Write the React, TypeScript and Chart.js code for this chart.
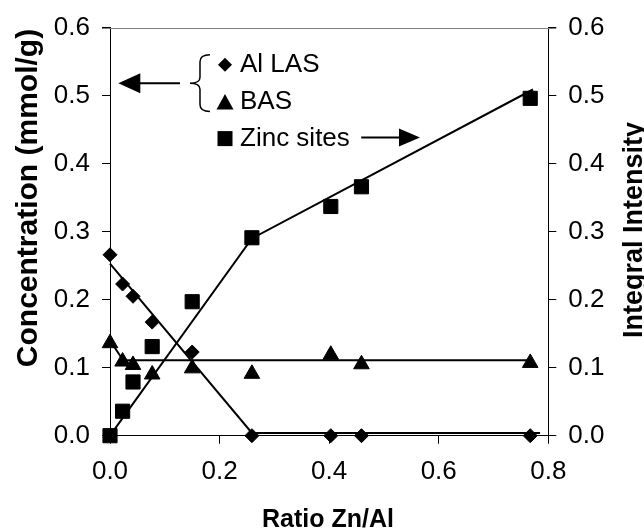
import React, { useEffect, useRef } from 'react';
import { Chart, registerables } from 'chart.js';

Chart.register(...registerables);

// ---- data ----
const ratioZnAl = [0, 0.023, 0.042, 0.077, 0.15, 0.259, 0.403, 0.459, 0.767];
const alLAS = [0.266, 0.223, 0.205, 0.167, 0.123, 0.0, 0.0, 0.0, 0.0];
const basSites = [0.136, 0.109, 0.104, 0.09, 0.099, 0.091, 0.119, 0.105, 0.107];
const zincSites = [0.0, 0.036, 0.079, 0.131, 0.197, 0.291, 0.337, 0.366, 0.496];

const lasFitX = [0, 0.259, 0.785];
const lasFitY = [0.253, 0.004, 0.004];
const basFitX = [0, 0.024, 0.767];
const basFitY = [0.14, 0.111, 0.111];
const zincFitX = [0, 0.259, 0.772];
const zincFitY = [0, 0.29, 0.509];

const xTickValues = [0, 0.2, 0.4, 0.6, 0.8];
const yTickValues = [0, 0.1, 0.2, 0.3, 0.4, 0.5, 0.6];

const xTitle = 'Ratio Zn/Al';
const yLeftTitle = 'Concentration (mmol/g)';
const yRightTitle = 'Integral Intensity';
const legendLabels = ['Al LAS', 'BAS', 'Zinc sites'];

// annotation anchors in data units
const legendMarkerX = 0.2099;
const legendTextX = 0.2373;
const legendY = [0.5454, 0.4905, 0.4368];
const leftArrow = { tipX: 0.0152, tailX: 0.1278, y: 0.518 };
const brace = { tipX: 0.146, endX: 0.1825, top: 0.56, bottom: 0.4766, mid: 0.518 };
const rightArrow = { tailX: 0.4585, tipX: 0.5658, y: 0.4386 };

const FONT = '"Liberation Sans", Arial, Helvetica, sans-serif';

const pts = (xs: number[], ys: number[]) => xs.map((x, i) => ({ x, y: ys[i] }));

const annotPlugin = {
  id: 'annot',
  afterDraw(chart: any) {
    const ctx = chart.ctx as CanvasRenderingContext2D;
    const sx = chart.scales.x;
    const sy = chart.scales.y;
    const X = (v: number) => sx.getPixelForValue(v);
    const Y = (v: number) => sy.getPixelForValue(v);
    const ca = chart.chartArea;
    ctx.save();

    // top border (gray)
    ctx.strokeStyle = '#808080';
    ctx.lineWidth = 1;
    ctx.beginPath();
    ctx.moveTo(ca.left - 8, Math.round(ca.top) + 0.5);
    ctx.lineTo(ca.right + 8, Math.round(ca.top) + 0.5);
    ctx.stroke();

    ctx.fillStyle = '#000';
    ctx.strokeStyle = '#000';

    // legend markers
    const mx = X(legendMarkerX);
    // diamond
    let my = Y(legendY[0]);
    ctx.beginPath();
    ctx.moveTo(mx - 7, my);
    ctx.lineTo(mx, my - 7);
    ctx.lineTo(mx + 7, my);
    ctx.lineTo(mx, my + 7);
    ctx.closePath();
    ctx.fill();
    // triangle
    my = Y(legendY[1]);
    ctx.beginPath();
    ctx.moveTo(mx, my - 8);
    ctx.lineTo(mx + 8.5, my + 7.5);
    ctx.lineTo(mx - 8.5, my + 7.5);
    ctx.closePath();
    ctx.fill();
    // square
    my = Y(legendY[2]);
    ctx.fillRect(mx - 7.5, my - 7.5, 15, 15);

    // legend texts
    ctx.font = '26px ' + FONT;
    ctx.textAlign = 'left';
    ctx.textBaseline = 'middle';
    legendLabels.forEach((t, i) => ctx.fillText(t, X(legendTextX), Y(legendY[i])));

    // left arrow
    ctx.lineWidth = 2;
    let ay = Y(leftArrow.y);
    let tip = X(leftArrow.tipX);
    ctx.beginPath();
    ctx.moveTo(X(leftArrow.tailX), ay);
    ctx.lineTo(tip + 18, ay);
    ctx.stroke();
    ctx.beginPath();
    ctx.moveTo(tip, ay);
    ctx.lineTo(tip + 22, ay - 10);
    ctx.lineTo(tip + 22, ay + 10);
    ctx.closePath();
    ctx.fill();

    // right arrow
    ay = Y(rightArrow.y);
    tip = X(rightArrow.tipX);
    ctx.beginPath();
    ctx.moveTo(X(rightArrow.tailX), ay);
    ctx.lineTo(tip - 18, ay);
    ctx.stroke();
    ctx.beginPath();
    ctx.moveTo(tip, ay);
    ctx.lineTo(tip - 21, ay - 9);
    ctx.lineTo(tip - 21, ay + 9);
    ctx.closePath();
    ctx.fill();

    // brace
    const xt = X(brace.tipX);
    const xe = X(brace.endX);
    const xm = (xt + xe) / 2;
    const yt = Y(brace.top);
    const yb = Y(brace.bottom);
    const ym = Y(brace.mid);
    ctx.lineWidth = 1.5;
    ctx.beginPath();
    ctx.moveTo(xe, yt);
    ctx.quadraticCurveTo(xm, yt, xm, yt + 7);
    ctx.lineTo(xm, ym - 6);
    ctx.quadraticCurveTo(xm, ym, xt, ym);
    ctx.quadraticCurveTo(xm, ym, xm, ym + 6);
    ctx.lineTo(xm, yb - 7);
    ctx.quadraticCurveTo(xm, yb, xe, yb);
    ctx.stroke();

    // axis titles
    ctx.textAlign = 'center';
    ctx.textBaseline = 'alphabetic';
    ctx.font = 'bold 25px ' + FONT;
    ctx.fillText(xTitle, 328, 527);

    ctx.save();
    ctx.font = 'bold 30px ' + FONT;
    ctx.translate(37, 198);
    ctx.rotate(-Math.PI / 2);
    ctx.fillText(yLeftTitle, 0, 0);
    ctx.restore();

    ctx.save();
    ctx.font = 'bold 27px ' + FONT;
    ctx.translate(641.5, 230);
    ctx.rotate(-Math.PI / 2);
    ctx.fillText(yRightTitle, 0, 0);
    ctx.restore();

    ctx.restore();
  },
};

export default function App() {
  const ref = useRef<HTMLCanvasElement | null>(null);

  useEffect(() => {
    document.body.style.margin = '0';
    const canvas = ref.current;
    if (!canvas) return;
    const tickFont = { family: FONT, size: 26 };
    const axisCommon = {
      grid: { drawOnChartArea: false, drawTicks: true, tickLength: 8, color: '#000', lineWidth: 1 },
      border: { display: true, color: '#000', width: 1 },
    };
    const markerBase = {
      backgroundColor: '#000',
      borderColor: '#000',
      borderWidth: 1,
      showLine: false,
      clip: false,
    };
    const fitBase = {
      showLine: true,
      pointRadius: 0,
      borderColor: '#000',
      borderWidth: 2,
      clip: false,
    };
    const chart = new Chart(canvas, {
      type: 'scatter',
      data: {
        datasets: [
          { label: 'Al LAS', data: pts(ratioZnAl, alLAS), pointStyle: 'rectRot', pointRadius: 7, ...markerBase },
          { label: 'BAS', data: pts(ratioZnAl, basSites), pointStyle: 'triangle', pointRadius: 9, ...markerBase },
          { label: 'Zinc sites', data: pts(ratioZnAl, zincSites), pointStyle: 'rect', pointRadius: 10, ...markerBase },
          { label: 'LAS fit', data: pts(lasFitX, lasFitY), ...fitBase },
          { label: 'BAS fit', data: pts(basFitX, basFitY), ...fitBase },
          { label: 'Zinc fit', data: pts(zincFitX, zincFitY), ...fitBase },
        ],
      },
      options: {
        responsive: false,
        animation: false,
        events: [],
        layout: { padding: { top: 26, left: 0, right: 0, bottom: 0 } },
        plugins: { legend: { display: false }, tooltip: { enabled: false } },
        scales: {
          x: {
            type: 'linear',
            min: 0,
            max: 0.8,
            afterBuildTicks: (s: any) => { s.ticks = xTickValues.map((v) => ({ value: v })); },
            afterFit: (s: any) => { s.height = 94.3; },
            ticks: { color: '#000', font: tickFont, padding: 13, callback: (v: any) => Number(v).toFixed(1), maxRotation: 0 },
            ...axisCommon,
          },
          y: {
            type: 'linear',
            position: 'left',
            min: 0,
            max: 0.6,
            afterBuildTicks: (s: any) => { s.ticks = yTickValues.map((v) => ({ value: v })); },
            afterFit: (s: any) => { s.width = 110; },
            ticks: { color: '#000', font: tickFont, padding: 12, callback: (v: any) => Number(v).toFixed(1) },
            ...axisCommon,
          },
          y2: {
            type: 'linear',
            position: 'right',
            min: 0,
            max: 0.6,
            afterBuildTicks: (s: any) => { s.ticks = yTickValues.map((v) => ({ value: v })); },
            afterFit: (s: any) => { s.width = 95.7; },
            ticks: { color: '#000', font: tickFont, padding: 12, callback: (v: any) => Number(v).toFixed(1) },
            ...axisCommon,
          },
        },
      },
      plugins: [annotPlugin],
    } as any);
    return () => chart.destroy();
  }, []);

  return (
    <div style={{ width: 644, height: 530 }}>
      <canvas ref={ref} width={644} height={530} style={{ display: 'block' }} />
    </div>
  );
}
